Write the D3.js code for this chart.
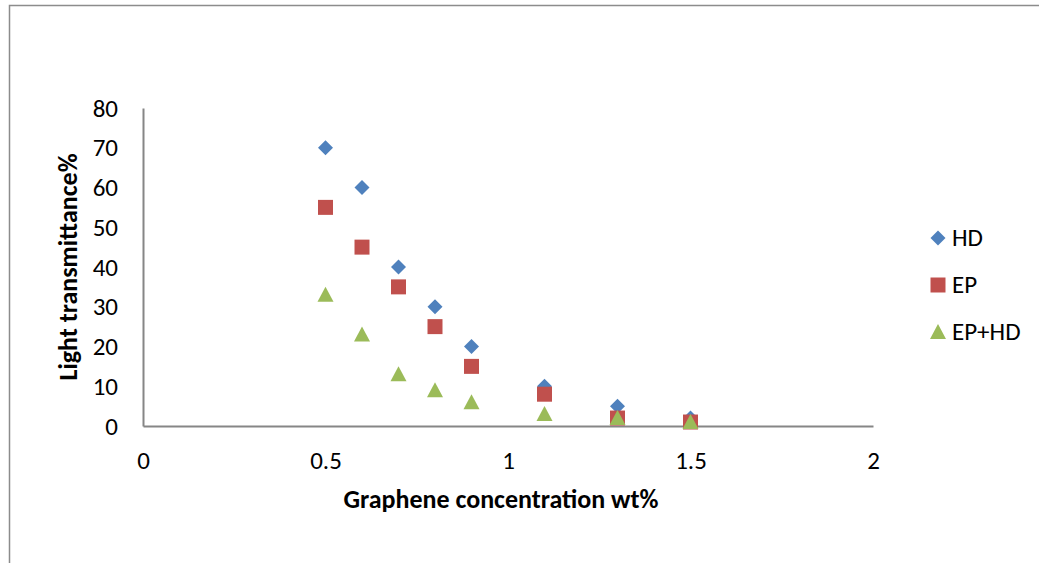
<!DOCTYPE html>
<html><head><meta charset="utf-8">
<script src="https://cdn.jsdelivr.net/npm/d3@7"></script>
<style>body{margin:0;background:#fff}svg{display:block}</style>
</head><body>
<svg id="c" width="1039" height="563"></svg>
<script>
const xValues = [0.5, 0.6, 0.7, 0.8, 0.9, 1.1, 1.3, 1.5];
const hdValues = [70, 60, 40, 30, 20, 10, 5, 2];
const epValues = [55, 45, 35, 25, 15, 8, 2, 1];
const ephdValues = [33, 23, 13, 9, 6, 3, 2, 1];
const seriesNames = ["HD", "EP", "EP+HD"];
const xTicks = [0, 0.5, 1, 1.5, 2];
const yTicks = [0, 10, 20, 30, 40, 50, 60, 70, 80];

const svg = d3.select("#c");
const font = "Carlito, 'Open Sans', 'Liberation Sans', sans-serif";
svg.append("rect").attr("x", 9.5).attr("y", 5.5).attr("width", 1100).attr("height", 700)
  .attr("fill", "none").attr("stroke", "#8c8c8c").attr("stroke-width", 1.5);

const x = d3.scaleLinear().domain([0, 2]).range([143, 873]);
const y = d3.scaleLinear().domain([0, 80]).range([426, 108]);

const gx = svg.append("g").attr("transform", "translate(0,426)")
  .call(d3.axisBottom(x).tickValues(xTicks).tickFormat(d => String(d)).tickSize(0).tickPadding(25));
const gy = svg.append("g").attr("transform", "translate(143,0)")
  .call(d3.axisLeft(y).tickValues(yTicks).tickSize(0).tickPadding(25));
[gx, gy].forEach(g => {
  g.select(".domain").attr("stroke", "#868686").attr("stroke-width", 2);
  g.selectAll("text").attr("font-family", font).attr("font-size", 25).attr("fill", "#000");
});

const colors = ["#4F81BD", "#C0504D", "#9BBB59"];
const data = [hdValues, epValues, ephdValues];

function sym(i) {
  if (i === 0) return "M0,-7.5L7.5,0L0,7.5L-7.5,0Z";
  if (i === 1) return "M-7.5,-7.5H7.5V7.5H-7.5Z";
  return "M0,-8L8,7H-8Z";
}

data.forEach((vals, i) => {
  svg.append("g").selectAll("path").data(vals).join("path")
    .attr("d", sym(i))
    .attr("transform", (d, j) => `translate(${x(xValues[j])},${y(d)})`)
    .attr("fill", colors[i]);
});

const leg = svg.append("g");
seriesNames.forEach((n, i) => {
  const ly = 238 + i * 47;
  leg.append("path").attr("d", sym(i)).attr("transform", `translate(938,${ly})`).attr("fill", colors[i]);
  leg.append("text").attr("x", 952).attr("y", ly + 8).text(n)
    .attr("font-family", font).attr("font-size", 25).attr("fill", "#000");
});

svg.append("text").attr("x", 501).attr("y", 508).attr("text-anchor", "middle")
  .attr("font-family", font).attr("font-size", 26).attr("font-weight", "bold")
  .text("Graphene concentration wt%");
svg.append("text").attr("transform", "translate(77,267) rotate(-90)").attr("text-anchor", "middle")
  .attr("font-family", font).attr("font-size", 26).attr("font-weight", "bold")
  .text("Light transmittance%");
</script>
</body></html>
